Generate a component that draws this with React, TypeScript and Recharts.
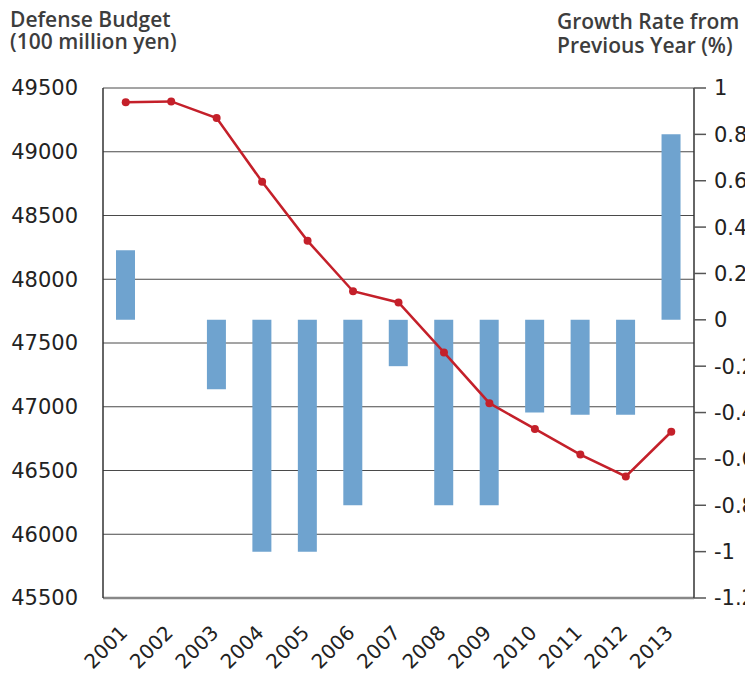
import React from 'react';
import { ComposedChart, Bar, Line, XAxis, YAxis, CartesianGrid } from 'recharts';

const years = ['2001', '2002', '2003', '2004', '2005', '2006', '2007', '2008', '2009', '2010', '2011', '2012', '2013'];
const budget = [49388, 49395, 49265, 48764, 48301, 47906, 47818, 47426, 47028, 46826, 46625, 46453, 46804];
const growth = [0.3, 0, -0.3, -1.0, -1.0, -0.8, -0.2, -0.8, -0.8, -0.4, -0.41, -0.41, 0.8];

const budgetTicks = [45500, 46000, 46500, 47000, 47500, 48000, 48500, 49000, 49500];
const growthTicks = [1, 0.8, 0.6, 0.4, 0.2, 0, -0.2, -0.4, -0.6, -0.8, -1, -1.2];

const data = years.map((year, i) => ({ year, budget: budget[i], growth: growth[i] }));

const FONT = '"DejaVu Sans", sans-serif';
const TITLE_FONT = '"Open Sans", sans-serif';

const YearTick = ({ x, y, payload }: { x?: number; y?: number; payload?: { value: string } }) => (
  <text
    transform={`translate(${(x ?? 0) + 3},${(y ?? 0) + 36}) rotate(-45)`}
    textAnchor="end"
    fontFamily={FONT}
    fontSize={20}
    fill="#222"
  >
    {payload?.value}
  </text>
);

const titleStyle: React.CSSProperties = {
  position: 'absolute',
  top: 0,
  fontFamily: TITLE_FONT,
  fontWeight: 600,
  fontSize: 21,
  lineHeight: '24px',
  color: '#3d3d3d',
  whiteSpace: 'nowrap',
};

export default function App() {
  return (
    <div style={{ position: 'relative', width: 745, height: 665, overflow: 'hidden' }}>
      <div style={{ ...titleStyle, left: 2, top: 0, lineHeight: '22px' }}>
        Defense Budget
        <br />
        (100 million yen)
      </div>
      <div style={{ ...titleStyle, left: 549, top: 1 }}>
        Growth Rate from
        <br />
        Previous Year (%)
      </div>
      <ComposedChart
        width={800}
        height={665}
        data={data}
        margin={{ top: 80, right: 0, bottom: 0, left: 0 }}
        barCategoryGap={0}
      >
        <CartesianGrid yAxisId="left" vertical={false} stroke="#4a4a4a" strokeWidth={1} />
        <XAxis
          dataKey="year"
          height={75}
          axisLine={{ stroke: '#888', strokeWidth: 2.5 }}
          tickLine={false}
          tickSize={0}
          tickMargin={0}
          tick={<YearTick />}
          interval={0}
        />
        <YAxis
          yAxisId="left"
          width={95}
          domain={[45500, 49500]}
          ticks={budgetTicks}
          interval={0}
          axisLine={{ stroke: '#333', strokeWidth: 1.5 }}
          tickLine={false}
          tickSize={0}
          tickMargin={25}
          tick={{ fontFamily: FONT, fontSize: 21, fill: '#222' }}
        />
        <YAxis
          yAxisId="right"
          orientation="right"
          width={114}
          domain={[-1.2, 1]}
          ticks={growthTicks}
          interval={0}
          axisLine={{ stroke: '#333', strokeWidth: 1.5 }}
          tickLine={{ stroke: '#555', strokeWidth: 1.5 }}
          tickSize={12}
          tickMargin={8}
          tickFormatter={(v: number) => String(v)}
          tick={{ fontFamily: FONT, fontSize: 21, fill: '#222', textAnchor: 'start' }}
        />
        <Bar yAxisId="right" dataKey="growth" fill="#6fa3cf" barSize={19} isAnimationActive={false} />
        <Line
          yAxisId="left"
          dataKey="budget"
          stroke="#c4202a"
          strokeWidth={2.5}
          dot={{ r: 4, fill: '#c4202a', stroke: '#c4202a', strokeWidth: 0 }}
          isAnimationActive={false}
        />
      </ComposedChart>
    </div>
  );
}
